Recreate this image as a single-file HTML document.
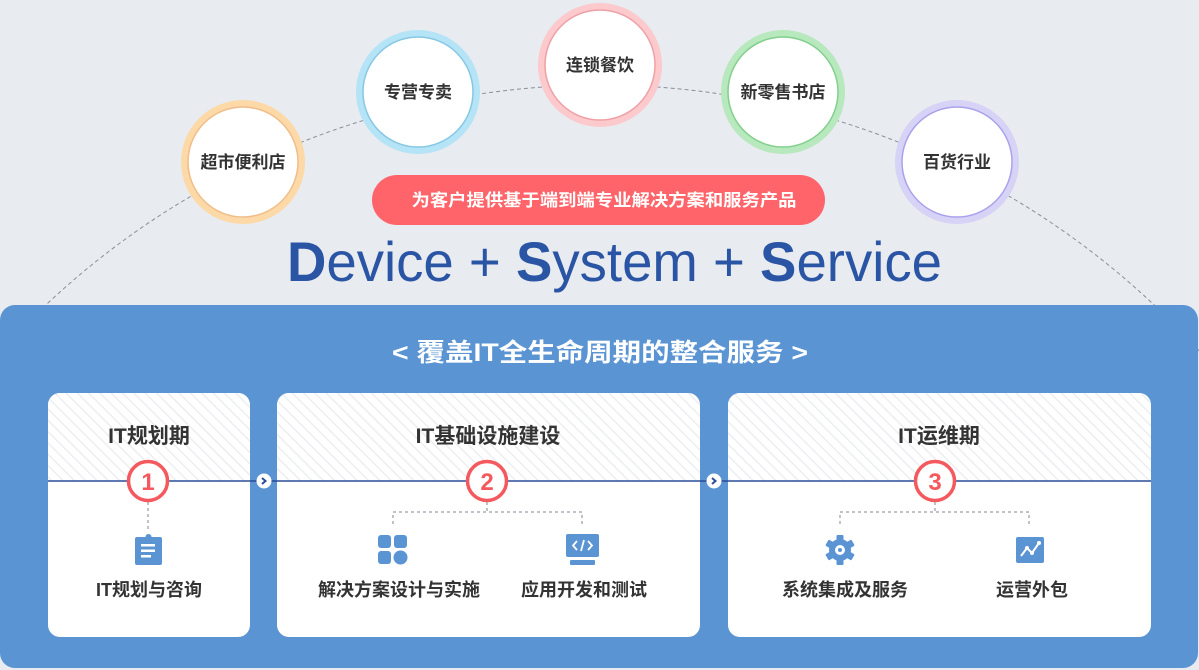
<!DOCTYPE html>
<html><head><meta charset="utf-8"><style>
html,body{margin:0;padding:0;background:#e8ebf0;width:1199px;height:670px;overflow:hidden;}
svg{display:block;overflow:hidden}
text{font-family:"Liberation Sans","Noto Sans CJK SC",sans-serif;}
</style></head><body>
<svg width="1199" height="670" viewBox="0 0 1199 670" xmlns="http://www.w3.org/2000/svg">
<defs>
<pattern id="hatch" width="8" height="8" patternUnits="userSpaceOnUse" patternTransform="rotate(-45)">
<rect width="8" height="8" fill="#ffffff"/>
<line x1="0" y1="0" x2="0" y2="8" stroke="#eceef1" stroke-width="3"/>
</pattern>
<clipPath id="c"><rect width="1199" height="670"/></clipPath>
</defs>
<g clip-path="url(#c)">
<rect width="1199" height="670" fill="#e8ebf0"/>
<circle cx="600" cy="893" r="808" fill="none" stroke="#8a8f99" stroke-width="1" stroke-dasharray="4,3"/>
<g font-size="17" font-weight="bold" fill="#333" text-anchor="middle">
<circle cx="243" cy="162" r="62" fill="#fdd9a8"/><circle cx="243" cy="162" r="55" fill="#fff" stroke="#f0bd8a" stroke-width="1.5"/><text x="243" y="168">超市便利店</text>
<circle cx="418" cy="92" r="62" fill="#b4e4f6"/><circle cx="418" cy="92" r="55" fill="#fff" stroke="#86c8e4" stroke-width="1.5"/><text x="418" y="98">专营专卖</text>
<circle cx="600" cy="65" r="62" fill="#fcc9cc"/><circle cx="600" cy="65" r="55" fill="#fff" stroke="#eea0a5" stroke-width="1.5"/><text x="600" y="71">连锁餐饮</text>
<circle cx="783" cy="92" r="62" fill="#b8e8bd"/><circle cx="783" cy="92" r="55" fill="#fff" stroke="#82d08c" stroke-width="1.5"/><text x="783" y="98">新零售书店</text>
<circle cx="957" cy="162" r="62" fill="#d6d3f6"/><circle cx="957" cy="162" r="55" fill="#fff" stroke="#a9a2ec" stroke-width="1.5"/><text x="957" y="168">百货行业</text>
</g>
<rect x="372" y="175" width="453" height="50" rx="25" fill="#fe6469"/>
<text x="604" y="206" font-size="17" font-weight="bold" fill="#fff" text-anchor="middle" textLength="385" lengthAdjust="spacingAndGlyphs">为客户提供基于端到端专业解决方案和服务产品</text>
<text x="287" y="281" font-size="56" fill="#2a55a5" textLength="655" lengthAdjust="spacingAndGlyphs"><tspan font-weight="bold">D</tspan>evice + <tspan font-weight="bold">S</tspan>ystem + <tspan font-weight="bold">S</tspan>ervice</text>
<rect x="0" y="305" width="1198" height="363" rx="15" fill="#5b94d3"/>
<text x="392" y="361" font-size="25" font-weight="bold" fill="#fff" textLength="416" lengthAdjust="spacingAndGlyphs">&lt; 覆盖IT全生命周期的整合服务 &gt;</text>
<rect x="48" y="393" width="202" height="244" rx="12" fill="#fff"/>
<path d="M48 481 V405 a12 12 0 0 1 12 -12 H238 a12 12 0 0 1 12 12 V481 Z" fill="url(#hatch)"/>
<rect x="277" y="393" width="423" height="244" rx="12" fill="#fff"/>
<path d="M277 481 V405 a12 12 0 0 1 12 -12 H688 a12 12 0 0 1 12 12 V481 Z" fill="url(#hatch)"/>
<rect x="728" y="393" width="423" height="244" rx="12" fill="#fff"/>
<path d="M728 481 V405 a12 12 0 0 1 12 -12 H1139 a12 12 0 0 1 12 12 V481 Z" fill="url(#hatch)"/>
<line x1="48" y1="481" x2="1151" y2="481" stroke="#2a4d9a" stroke-width="1.5"/>
<circle cx="264" cy="481" r="7.5" fill="#fff"/><path d="M262 478 L265.5 481 L262 484" fill="none" stroke="#2a4d9a" stroke-width="2"/>
<circle cx="714" cy="481" r="7.5" fill="#fff"/><path d="M712 478 L715.5 481 L712 484" fill="none" stroke="#2a4d9a" stroke-width="2"/>
<g font-size="21" font-weight="bold" fill="#333" text-anchor="middle">
<text x="149" y="443">IT规划期</text>
<text x="488" y="443">IT基础设施建设</text>
<text x="939" y="443">IT运维期</text>
</g>
<g fill="none" stroke="#7d8694" stroke-width="1" stroke-dasharray="3,3">
<line x1="148" y1="502" x2="148" y2="532"/>
<path d="M487 502 V512 M393 524 V512 H582 V524"/>
<path d="M935 502 V512 M840 524 V512 H1029 V524"/>
</g>
<g font-size="24" font-weight="bold" fill="#f4595d" text-anchor="middle">
<circle cx="148" cy="481" r="19.5" fill="#fff" stroke="#f4595d" stroke-width="3.5"/><text x="148" y="490">1</text>
<circle cx="487" cy="481" r="19.5" fill="#fff" stroke="#f4595d" stroke-width="3.5"/><text x="487" y="490">2</text>
<circle cx="935" cy="481" r="19.5" fill="#fff" stroke="#f4595d" stroke-width="3.5"/><text x="935" y="490">3</text>
</g>
<g fill="#5b94d3">
<rect x="135" y="537" width="27" height="28" rx="2"/>
<circle cx="148.5" cy="537" r="3"/>
<rect x="141" y="544" width="14" height="2.5" fill="#fff"/><rect x="141" y="549.5" width="14" height="2.5" fill="#fff"/><rect x="141" y="555" width="10" height="2.5" fill="#fff"/>
<rect x="378" y="535" width="13" height="13" rx="3"/><rect x="394" y="535" width="13" height="13" rx="3"/>
<rect x="378" y="551" width="13" height="13" rx="3"/><circle cx="400.5" cy="557.5" r="7"/>
<rect x="566" y="534" width="33" height="23" rx="2"/><rect x="570" y="560" width="25" height="5" rx="1"/>
<path d="M577 541 L573 545.5 L577 550 M588 541 L592 545.5 L588 550 M584 540 L581 551" fill="none" stroke="#fff" stroke-width="1.8"/>
<g transform="translate(840 550)">
<rect x="-3.5" y="-15" width="7" height="30" rx="1"/>
<rect x="-3.5" y="-15" width="7" height="30" rx="1" transform="rotate(60)"/>
<rect x="-3.5" y="-15" width="7" height="30" rx="1" transform="rotate(120)"/>
<circle r="11"/><circle r="5" fill="#fff"/><circle r="2" fill="#5b94d3"/>
</g>
<rect x="1016" y="537" width="28" height="26" rx="2"/>
<path d="M1021 556 L1027 548 L1032 553 L1039 543" fill="none" stroke="#fff" stroke-width="2"/>
<circle cx="1027" cy="548" r="2" fill="#fff"/><circle cx="1032" cy="553" r="2" fill="#fff"/><circle cx="1039" cy="543" r="2" fill="#fff"/>
</g>
<g font-size="18" font-weight="bold" fill="#333" text-anchor="middle">
<text x="149" y="596">IT规划与咨询</text>
<text x="399" y="596">解决方案设计与实施</text>
<text x="584" y="596">应用开发和测试</text>
<text x="845" y="596">系统集成及服务</text>
<text x="1032" y="596">运营外包</text>
</g>
</g>
</svg>
</body></html>
